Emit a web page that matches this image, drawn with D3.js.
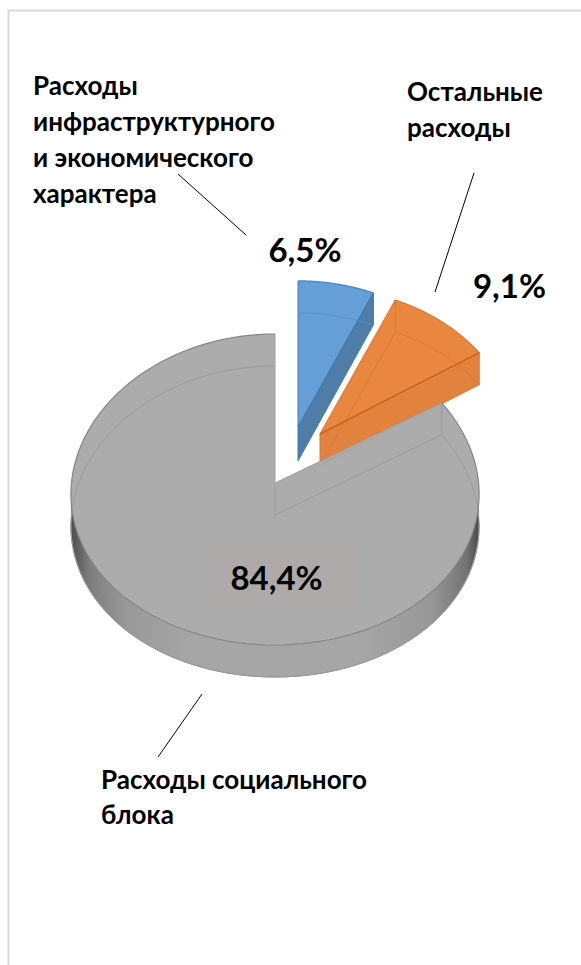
<!DOCTYPE html>
<html lang="ru">
<head>
<meta charset="UTF-8">
<title>Расходы</title>
<style>
    html, body { margin: 0; padding: 0; background: #fff; }
    svg { display: block; }
    text { font-family: Lato, "Noto Sans", "Open Sans", sans-serif; font-weight: 700; fill: #000; }
</style>
</head>
<body>
<svg width="581" height="965"></svg>
<script src="https://cdnjs.cloudflare.com/ajax/libs/d3/7.8.5/d3.min.js"></script>
<script>
// values
const categories = ['Расходы инфраструктурного и экономического характера', 'Остальные расходы', 'Расходы социального блока'];
const shares = [6.5, 9.1, 84.4];
const valueLabels = ['6,5%', '9,1%', '84,4%'];

const svg = d3.select('svg');
const defs = svg.append('defs');

// frame of the chart area, open on the right and the bottom
svg.append('path').attr('d', 'M8.5,965V10.5H581').attr('fill', 'none').attr('stroke', '#d9d9d9').attr('stroke-width', 2);

// slices in clockwise order from 12 o'clock
const arcs = d3.pie().sort(null).startAngle(0).endAngle(2 * Math.PI)(shares);
const depth = 32;
const tilt = 0.03; // far side of the disc is a bit narrower

// ax,ay is the apex of the slice on the top face
const layout = [
    { ax: 298, ay: 427, rx: 195, ry: 146, cy: 0 },
    { ax: 320, ay: 434, rx: 195, ry: 146, cy: 0 },
    { ax: 275, ay: 483, rx: 204, ry: 155.5, cy: 6.5 }
];

function pt(l, t, r, z) {
    return [
        l.ax + r * l.rx * Math.sin(t) * (1 - tilt * Math.cos(t)),
        l.ay + r * (l.cy - l.ry * Math.cos(t)) + (z || 0)
    ];
}
// points of the rim between two angles
function rim(l, a0, a1, z) {
    return d3.range(0, 121).map(i => pt(l, a0 + (a1 - a0) * i / 120, 1, z));
}
const line = d3.line();

function add(pts, fill, stroke, width, close) {
    return svg.append('path')
        .attr('d', line(pts) + (close ? 'Z' : ''))
        .attr('fill', fill || 'none')
        .attr('stroke', stroke || 'none')
        .attr('stroke-width', width || 1)
        .attr('stroke-linejoin', 'round');
}

// wedge outlines
function wedge(i) {
    const l = layout[i], a = arcs[i];
    return [pt(l, 0, 0)].concat(rim(l, a.startAngle, a.endAngle));
}

// orange slice
(function () {
    const l = layout[1], a = arcs[1];
    const apex = pt(l, 0, 0), apexB = pt(l, 0, 0, depth);
    const end = pt(l, a.endAngle, 1), endB = pt(l, a.endAngle, 1, depth);
    const start = pt(l, a.startAngle, 1), startB = pt(l, a.startAngle, 1, depth);
    add(wedge(1), '#e9863f', '#e07a30', 1.2, true);
    add([apex, end, endB, apexB], '#e2823f', '#d9792f', 1, true);
    // edges seen through the slice
    add([apexB, startB].concat(rim(l, a.startAngle, a.endAngle, depth)), null, '#dd7a30', 1);
    add([start, startB], null, '#dd7a30', 1);
    add([apex, end], null, '#c8651c', 1.5);
})();

// blue slice
(function () {
    const l = layout[0], a = arcs[0];
    const apex = pt(l, 0, 0), apexB = pt(l, 0, 0, depth + 2);
    const end = pt(l, a.endAngle, 1), endB = pt(l, a.endAngle, 1, depth);
    add([pt(l, a.startAngle, 1), apexB, apex].concat([end]).concat(rim(l, a.endAngle, a.startAngle)), '#659fd6', null, 1, true);
    add([apex, end, endB, apexB], '#4f7da7', null, 1, true);
    add(rim(l, a.startAngle, a.endAngle), null, '#4d8cc6', 1.5);
    add(rim(l, a.startAngle, a.endAngle, depth), null, '#5d93c6', 1);
    add([pt(l, a.startAngle, 1), apexB, endB], null, '#3f7fbc', 1);
    add([apex, end, endB], null, '#3a78b2', 1.2);
})();

// grey slice, wall first
const wallGrad = defs.append('linearGradient').attr('id', 'wall')
    .attr('gradientUnits', 'userSpaceOnUse').attr('x1', 72).attr('x2', 479).attr('y1', 0).attr('y2', 0);
[[0, '#4f4f4f'], [0.04, '#7c7c7c'], [0.14, '#9a9a9a'], [0.3, '#a6a6a6'], [0.7, '#a6a6a6'], [0.88, '#989898'], [0.97, '#737373'], [1, '#484848']]
    .forEach(s => wallGrad.append('stop').attr('offset', s[0]).attr('stop-color', s[1]));

(function () {
    const l = layout[2], a = arcs[2];
    const h = Math.PI / 2;
    const wall = rim(l, h, 3 * h).concat(rim(l, 3 * h, h, depth));
    add(wall, 'url(#wall)', null, 1, true);
    add(rim(l, h, 3 * h, depth), null, '#8f8f8f', 1);
    add(wedge(2), '#a9a9a9', null, 1, true).attr('fill-opacity', 0.97);
    // rim of the top face
    add(rim(l, a.startAngle, a.endAngle), null, '#868686', 1.2);
    add([pt(l, 0, 1), pt(l, 0, 0), pt(l, a.startAngle, 1)], null, '#a0a0a0', 1);
    // edges seen through the slice
    add(rim(l, a.startAngle, a.endAngle, depth), null, '#9c9c9c', 1);
    add([pt(l, 0, 0), pt(l, 0, 0, depth), pt(l, a.startAngle, 1, depth), pt(l, a.startAngle, 1)], null, '#9c9c9c', 1);
})();

// box behind the big label
svg.append('rect').attr('x', 210).attr('y', 543).attr('width', 147).attr('height', 65).attr('fill', '#aeaaaa');

// leader lines
[[[178, 174], [246, 235]], [[474, 173], [435, 292]], [[202, 694], [158, 757]]].forEach(d => {
    add(d, null, '#000', 1);
});

// category labels, wrapped by hand as in the picture
const catLines = [
    ['Расходы', 'инфраструктурного', 'и экономического', 'характера'],
    ['Остальные', 'расходы'],
    ['Расходы социального', 'блока']
];
const catPos = [[33, 95, 36], [407, 101, 36], [101, 789, 35]];
catLines.forEach((lines, i) => {
    lines.forEach((s, j) => {
        svg.append('text').attr('x', catPos[i][0]).attr('y', catPos[i][1] + j * catPos[i][2])
            .attr('font-size', 26).text(s);
    });
});

// value labels
const valPos = [[305, 262], [509.5, 298], [276.5, 590]];
valueLabels.forEach((s, i) => {
    svg.append('text').attr('x', valPos[i][0]).attr('y', valPos[i][1])
        .attr('text-anchor', 'middle').attr('font-size', 33).text(s);
});
</script>
</body>
</html>
